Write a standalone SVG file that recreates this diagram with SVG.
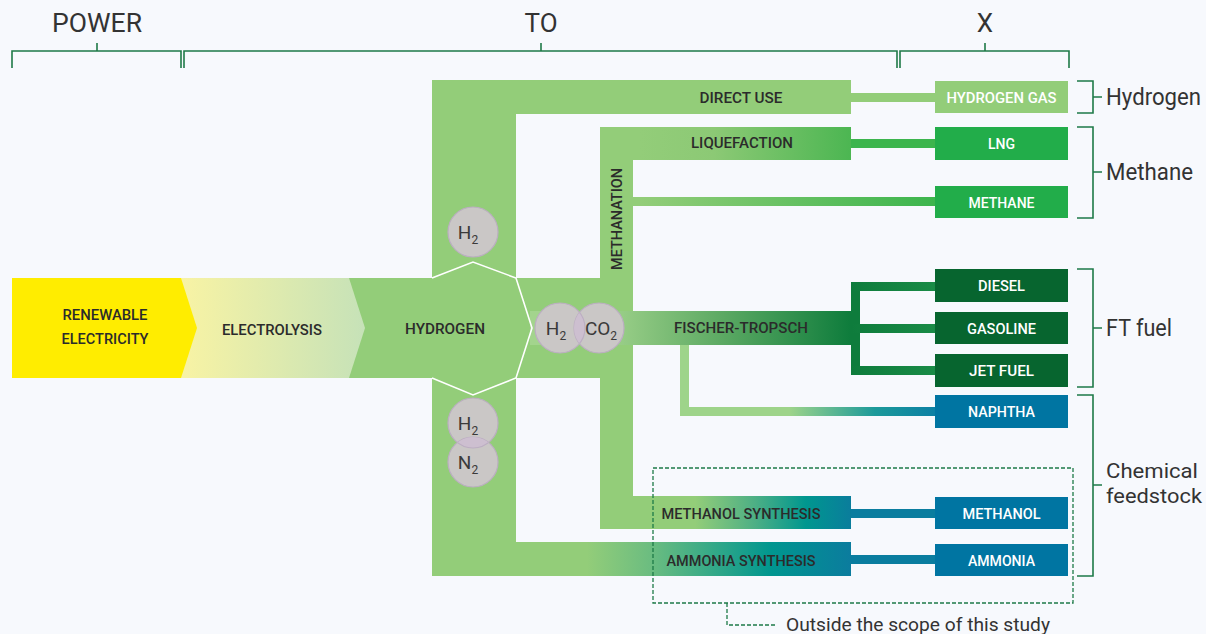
<svg xmlns="http://www.w3.org/2000/svg" width="1206" height="634" viewBox="0 0 1206 634">
<defs>
<style>
text{font-family:Roboto,"Liberation Sans",sans-serif}
.lbl{font-size:14px;fill:#2b2b2b;font-weight:500}
.box{font-size:14px;fill:#ffffff;font-weight:500}
.hdr{font-size:26px;fill:#333333}
.cat{font-size:23px;fill:#333333}
.cat2{font-size:21px;fill:#333333}
.note{font-size:18px;fill:#333333}
.mt{font-size:19px;fill:#3a3a3a}
.brk{fill:none;stroke:#1e7a48;stroke-width:1.6}
.mol{fill:#cac7c6;stroke:#bcaec2;stroke-width:1.2}
.lg{fill:#93cd79}
</style>
<linearGradient id="gEl" gradientUnits="userSpaceOnUse" x1="181" y1="0" x2="365" y2="0"><stop offset="0" stop-color="#f8f3a4"/><stop offset="1" stop-color="#c6e2b8"/></linearGradient>
<linearGradient id="gLiq" gradientUnits="userSpaceOnUse" x1="640" y1="0" x2="851" y2="0"><stop offset="0" stop-color="#93cd79"/><stop offset="0.35" stop-color="#8cc975"/><stop offset="1" stop-color="#4cb652"/></linearGradient>
<linearGradient id="gMe" gradientUnits="userSpaceOnUse" x1="640" y1="0" x2="935" y2="0"><stop offset="0" stop-color="#93cd79"/><stop offset="1" stop-color="#3cb54d"/></linearGradient>
<linearGradient id="gFT" gradientUnits="userSpaceOnUse" x1="600" y1="0" x2="851" y2="0"><stop offset="0" stop-color="#a3d48d"/><stop offset="0.5" stop-color="#5aa862"/><stop offset="1" stop-color="#0e7c3c"/></linearGradient>
<linearGradient id="gArm" gradientUnits="userSpaceOnUse" x1="851" y1="0" x2="940" y2="0"><stop offset="0" stop-color="#0e7c3c"/><stop offset="1" stop-color="#1a8c47"/></linearGradient>
<linearGradient id="gNap" gradientUnits="userSpaceOnUse" x1="680" y1="0" x2="940" y2="0"><stop offset="0" stop-color="#9ed48a"/><stop offset="0.42" stop-color="#9ed48a"/><stop offset="0.75" stop-color="#1c9a9a"/><stop offset="1" stop-color="#0b7ea5"/></linearGradient>
<linearGradient id="gMol" gradientUnits="userSpaceOnUse" x1="600" y1="0" x2="851" y2="0"><stop offset="0" stop-color="#93cd79"/><stop offset="0.38" stop-color="#93cd79"/><stop offset="0.62" stop-color="#4caf85"/><stop offset="0.82" stop-color="#00978f"/><stop offset="1" stop-color="#0a7d9c"/></linearGradient>
<linearGradient id="gAmm" gradientUnits="userSpaceOnUse" x1="432" y1="0" x2="851" y2="0"><stop offset="0" stop-color="#93cd79"/><stop offset="0.37" stop-color="#93cd79"/><stop offset="0.52" stop-color="#6cbd80"/><stop offset="0.81" stop-color="#00968f"/><stop offset="1" stop-color="#0b7c9e"/></linearGradient>
<clipPath id="cH2c"><circle cx="599" cy="328" r="25"/></clipPath>
<clipPath id="cN2"><circle cx="473" cy="462" r="25"/></clipPath>
</defs>
<rect width="1206" height="634" fill="#f7f9fd"/>

<g id="headers">
<text class="hdr" x="97" y="32" text-anchor="middle" textLength="90" lengthAdjust="spacingAndGlyphs">POWER</text>
<text class="hdr" x="541" y="32" text-anchor="middle">TO</text>
<text class="hdr" x="985" y="32" text-anchor="middle">X</text>
<path class="brk" d="M12,68 V51 H181 V68 M97,51 V43"/>
<path class="brk" d="M184,68 V51 H897 V68 M541,51 V43"/>
<path class="brk" d="M900,68 V51 H1069 V68 M985,51 V43"/>
</g>

<g id="connectors">
<rect class="lg" x="432" y="80" width="84" height="496"/>
<rect class="lg" x="432" y="80" width="419" height="34"/>
<rect class="lg" x="349" y="278" width="284" height="100"/>
<rect class="lg" x="600" y="127" width="33" height="402"/>
<rect x="600" y="127" width="251" height="33" fill="url(#gLiq)"/>
<rect x="633" y="197" width="302" height="9" fill="url(#gMe)"/>
<rect x="530" y="311" width="321" height="34" fill="url(#gFT)"/>
<rect x="680" y="345" width="9" height="71" fill="#9ed48a"/>
<rect x="680" y="407" width="255" height="9" fill="url(#gNap)"/>
<rect x="600" y="496" width="251" height="33" fill="url(#gMol)"/>
<rect x="432" y="542" width="419" height="34" fill="url(#gAmm)"/>
<polyline points="432,278 473,262 516,278 532,328 516,378 473,395 432,378" fill="none" stroke="#ffffff" stroke-width="1.6"/>
<rect x="851" y="282" width="9" height="93" fill="#0e7c3c"/>
</g>

<g id="electrolysis">
<polygon points="181,278 349,278 365,328 349,378 181,378" fill="url(#gEl)"/>
<text class="lbl" x="272" y="330" text-anchor="middle" dominant-baseline="central" textLength="100" lengthAdjust="spacingAndGlyphs">ELECTROLYSIS</text>
</g>
<g id="renewable">
<polygon points="12,278 181,278 197,328 181,378 12,378" fill="#ffed00"/>
<text class="lbl" x="105" y="315" text-anchor="middle" dominant-baseline="central" textLength="85" lengthAdjust="spacingAndGlyphs">RENEWABLE</text>
<text class="lbl" x="105" y="339" text-anchor="middle" dominant-baseline="central" textLength="87" lengthAdjust="spacingAndGlyphs">ELECTRICITY</text>
</g>
<g id="hydrogen">
<text class="lbl" x="445" y="329" text-anchor="middle" dominant-baseline="central" textLength="80" lengthAdjust="spacingAndGlyphs">HYDROGEN</text>
</g>

<g id="links">
<polygon points="851,93 935,93 940,97.5 935,102 851,102" fill="#93cd79"/>
<polygon points="851,139 935,139 940,143.5 935,148 851,148" fill="#3cb54d"/>
<polygon points="935,197 940,201.5 935,206" fill="#3cb54d"/>
<polygon points="851,282 935,282 940,286.5 935,291 851,291" fill="url(#gArm)"/>
<polygon points="851,324 935,324 940,328.5 935,333 851,333" fill="url(#gArm)"/>
<polygon points="851,366 935,366 940,370.5 935,375 851,375" fill="url(#gArm)"/>
<polygon points="935,407 940,411.5 935,416" fill="#0b7ea5"/>
<polygon points="851,509 935,509 940,513.5 935,518 851,518" fill="#0a7d9f"/>
<polygon points="851,555 935,555 940,559.5 935,564 851,564" fill="#0a7d9f"/>
</g>

<g id="process-labels">
<text class="lbl" x="741" y="98" text-anchor="middle" dominant-baseline="central" textLength="83" lengthAdjust="spacingAndGlyphs">DIRECT USE</text>
<text class="lbl" x="742" y="143" text-anchor="middle" dominant-baseline="central" textLength="102" lengthAdjust="spacingAndGlyphs">LIQUEFACTION</text>
<text class="lbl" transform="translate(617,219) rotate(-90)" x="0" y="0" text-anchor="middle" dominant-baseline="central" textLength="102" lengthAdjust="spacingAndGlyphs">METHANATION</text>
<text class="lbl" x="741" y="328" text-anchor="middle" dominant-baseline="central" textLength="134" lengthAdjust="spacingAndGlyphs">FISCHER-TROPSCH</text>
<text class="lbl" x="741" y="514" text-anchor="middle" dominant-baseline="central" textLength="159" lengthAdjust="spacingAndGlyphs">METHANOL SYNTHESIS</text>
<text class="lbl" x="741" y="561" text-anchor="middle" dominant-baseline="central" textLength="149" lengthAdjust="spacingAndGlyphs">AMMONIA SYNTHESIS</text>
</g>

<g id="mol-h2-top">
<circle class="mol" cx="473" cy="232" r="25"/>
<text class="mt" x="468" y="239" text-anchor="middle">H<tspan font-size="12" dy="5">2</tspan></text>
</g>
<g id="mol-h2-co2">
<circle class="mol" cx="560" cy="328" r="25"/>
<circle class="mol" cx="599" cy="328" r="25"/>
<circle cx="560" cy="328" r="25" fill="#cdbfd0" clip-path="url(#cH2c)" stroke="#bcaec2" stroke-width="1.2"/>
<text class="mt" x="556" y="335" text-anchor="middle">H<tspan font-size="12" dy="5">2</tspan></text>
<text class="mt" x="601" y="335" text-anchor="middle">CO<tspan font-size="12" dy="5">2</tspan></text>
</g>
<g id="mol-h2-n2">
<circle class="mol" cx="473" cy="423" r="25"/>
<circle class="mol" cx="473" cy="462" r="25"/>
<circle cx="473" cy="423" r="25" fill="#cdbfd0" clip-path="url(#cN2)" stroke="#bcaec2" stroke-width="1.2"/>
<text class="mt" x="468" y="430" text-anchor="middle">H<tspan font-size="12" dy="5">2</tspan></text>
<text class="mt" x="468" y="469" text-anchor="middle">N<tspan font-size="12" dy="5">2</tspan></text>
</g>

<g id="box-hydrogen-gas"><rect x="935" y="81" width="133" height="32" fill="#93cd79"/><text class="box" x="1001.5" y="97.5" text-anchor="middle" dominant-baseline="central" textLength="110" lengthAdjust="spacingAndGlyphs">HYDROGEN GAS</text></g>
<g id="box-lng"><rect x="935" y="127" width="133" height="33" fill="#22ad4a"/><text class="box" x="1001.5" y="144" text-anchor="middle" dominant-baseline="central">LNG</text></g>
<g id="box-methane"><rect x="935" y="186" width="133" height="32" fill="#22ad4a"/><text class="box" x="1001.5" y="202.5" text-anchor="middle" dominant-baseline="central" textLength="66" lengthAdjust="spacingAndGlyphs">METHANE</text></g>
<g id="box-diesel"><rect x="935" y="269" width="133" height="33" fill="#07652f"/><text class="box" x="1001.5" y="286" text-anchor="middle" dominant-baseline="central" textLength="47" lengthAdjust="spacingAndGlyphs">DIESEL</text></g>
<g id="box-gasoline"><rect x="935" y="312" width="133" height="32" fill="#07652f"/><text class="box" x="1001.5" y="328.5" text-anchor="middle" dominant-baseline="central" textLength="69" lengthAdjust="spacingAndGlyphs">GASOLINE</text></g>
<g id="box-jet-fuel"><rect x="935" y="354" width="133" height="33" fill="#07652f"/><text class="box" x="1001.5" y="371" text-anchor="middle" dominant-baseline="central" textLength="65" lengthAdjust="spacingAndGlyphs">JET FUEL</text></g>
<g id="box-naphtha"><rect x="935" y="395" width="133" height="33" fill="#0075a2"/><text class="box" x="1001.5" y="412" text-anchor="middle" dominant-baseline="central" textLength="67" lengthAdjust="spacingAndGlyphs">NAPHTHA</text></g>
<g id="box-methanol"><rect x="935" y="497" width="133" height="32" fill="#0075a2"/><text class="box" x="1001.5" y="514" text-anchor="middle" dominant-baseline="central" textLength="78" lengthAdjust="spacingAndGlyphs">METHANOL</text></g>
<g id="box-ammonia"><rect x="935" y="544" width="133" height="32" fill="#0075a2"/><text class="box" x="1001.5" y="561" text-anchor="middle" dominant-baseline="central" textLength="67" lengthAdjust="spacingAndGlyphs">AMMONIA</text></g>

<g id="categories">
<path class="brk" d="M1077,81 H1093 V113 H1077 M1093,97 H1102"/>
<path class="brk" d="M1077,127 H1093 V218 H1077 M1093,172 H1102"/>
<path class="brk" d="M1077,269 H1093 V387 H1077 M1093,328 H1102"/>
<path class="brk" d="M1077,395 H1093 V576 H1077 M1093,485 H1102"/>
<text class="cat" x="1106" y="97" dominant-baseline="central" textLength="95" lengthAdjust="spacingAndGlyphs">Hydrogen</text>
<text class="cat" x="1106" y="172" dominant-baseline="central" textLength="87" lengthAdjust="spacingAndGlyphs">Methane</text>
<text class="cat" x="1106" y="328" dominant-baseline="central" textLength="66" lengthAdjust="spacingAndGlyphs">FT fuel</text>
<text class="cat2" x="1106" y="471" dominant-baseline="central" textLength="92" lengthAdjust="spacingAndGlyphs">Chemical</text>
<text class="cat2" x="1106" y="496" dominant-baseline="central" textLength="96" lengthAdjust="spacingAndGlyphs">feedstock</text>
</g>

<g id="scope-note">
<rect x="653" y="468" width="420" height="135" fill="none" stroke="#1e7a48" stroke-width="1.3" stroke-dasharray="4 2"/>
<path d="M727,603 V625 H775" fill="none" stroke="#1e7a48" stroke-width="1.3" stroke-dasharray="4 2"/>
<text class="note" x="786" y="624" dominant-baseline="central" textLength="264" lengthAdjust="spacingAndGlyphs">Outside the scope of this study</text>
</g>
</svg>
